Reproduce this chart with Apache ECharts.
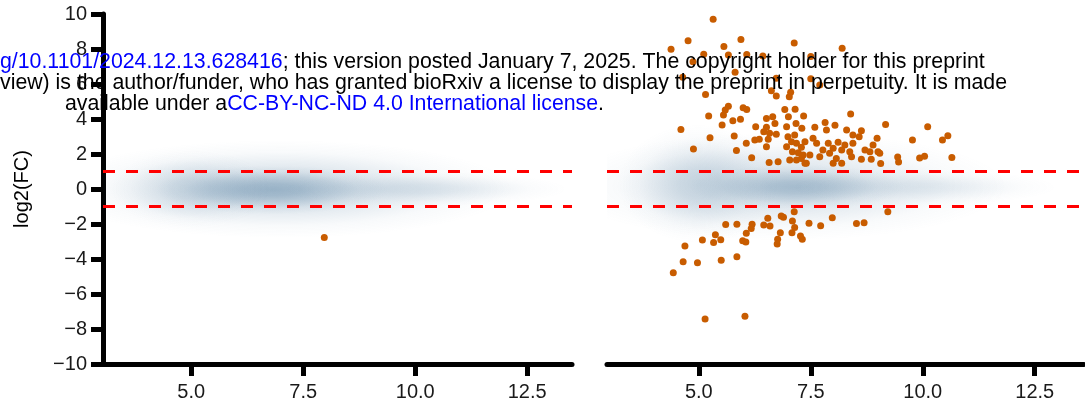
<!DOCTYPE html>
<html>
<head>
<meta charset="utf-8">
<script src="https://cdn.jsdelivr.net/npm/echarts@6.0.0/dist/echarts.min.js"></script>
<style>
html, body { margin: 0; padding: 0; background: #fff; }
#main { width: 1085px; height: 414px; }
</style>
</head>
<body>
<div id="main"></div>
<script>
// tick labels
var xTicks = [5.0, 7.5, 10.0, 12.5];
var yTicks = [-10, -8, -6, -4, -2, 0, 2, 4, 6, 8, 10];
// fold-change cut-offs (dashed lines)
var cutoffs = [1, -1];

// significant genes, left panel
var leftPoints = [[7.97, -2.77]];

// significant genes, right panel [A, log2FC]
var rightPoints = [
  [5.32, 9.70], [4.76, 8.47], [4.38, 7.98], [5.56, 8.15], [5.94, 8.55], [7.13, 8.34], [8.20, 8.04],
  [5.11, 7.70], [5.66, 7.66], [6.07, 7.69], [6.43, 7.60], [7.50, 7.57], [4.87, 7.27], [5.81, 6.67],
  [4.64, 6.38], [6.73, 6.33], [7.50, 6.30], [7.70, 5.95], [6.62, 5.62], [5.15, 5.40], [6.73, 5.31],
  [7.02, 5.27], [7.05, 5.53], [5.59, 4.51], [5.66, 4.73], [5.99, 4.65], [6.07, 4.55], [5.22, 4.17],
  [5.55, 4.23], [5.76, 3.90], [5.93, 3.98], [5.52, 3.66], [6.51, 4.03], [6.65, 4.13], [6.92, 4.55],
  [7.15, 4.56], [7.00, 4.13], [7.34, 4.17], [8.39, 4.29], [7.82, 3.80], [8.04, 3.65], [9.17, 3.69],
  [10.11, 3.56], [4.60, 3.40],
  [5.25, 2.93], [4.88, 2.29], [5.79, 3.03], [5.84, 2.20], [6.06, 2.61], [6.18, 1.79], [6.25, 2.80],
  [6.35, 2.84], [6.27, 3.56], [6.70, 3.75], [6.51, 3.53], [6.45, 3.27], [6.58, 3.18], [6.73, 3.13],
  [6.55, 2.84], [6.51, 2.42], [6.57, 1.51], [6.77, 1.56], [6.96, 3.56], [7.17, 3.75], [7.30, 3.47],
  [6.99, 2.99], [7.14, 3.09], [6.96, 2.42], [7.07, 2.70], [7.18, 2.61], [7.29, 2.38], [7.09, 2.13],
  [7.22, 2.07], [7.33, 1.94], [7.03, 1.66], [7.18, 1.66], [7.37, 1.47], [7.29, 1.75], [7.59, 3.53],
  [7.85, 3.37], [8.30, 3.37], [8.44, 3.09], [8.63, 3.33], [8.58, 2.99], [10.56, 3.05], [10.44, 2.80],
  [9.77, 2.80], [8.98, 2.90], [8.89, 2.51], [7.55, 2.90], [7.63, 2.61], [7.37, 2.70], [7.89, 2.61],
  [8.11, 2.67], [8.26, 2.51], [8.44, 2.61], [7.77, 2.23], [8.00, 2.33], [8.19, 2.23], [8.37, 2.13],
  [8.71, 2.23], [8.82, 2.13], [9.00, 2.13], [9.04, 2.04], [7.48, 1.94], [7.70, 1.85], [7.92, 2.04],
  [8.07, 1.75], [8.00, 1.47], [8.19, 1.47], [8.41, 1.85], [8.63, 1.70], [8.85, 1.70], [9.06, 1.46],
  [7.40, 1.47], [9.44, 1.83], [9.46, 1.54], [9.93, 1.77], [10.04, 1.87], [10.65, 1.80],
  [4.69, -3.26], [4.65, -4.15], [4.43, -4.78], [4.97, -4.21], [5.08, -2.91], [5.37, -2.61], [5.33, -3.05],
  [5.49, -2.90], [5.50, -4.07], [5.60, -2.03], [5.85, -2.01], [5.85, -3.87], [5.98, -2.95], [6.05, -3.03],
  [6.06, -2.53], [6.17, -2.26], [6.19, -2.01], [6.45, -2.06], [6.54, -1.67], [6.59, -2.11], [6.76, -2.87],
  [6.75, -3.14], [6.82, -2.50], [6.84, -1.54], [6.89, -1.62], [7.13, -1.30], [7.09, -1.83], [7.14, -2.20],
  [7.08, -2.50], [7.27, -2.69], [7.31, -2.87], [7.46, -1.96], [7.72, -2.10], [7.98, -1.64], [8.52, -1.97],
  [8.69, -1.93], [9.22, -1.30], [5.14, -7.43], [6.03, -7.27]
];

// density of all genes, as blobs: [A centre, log2FC centre, A spread, log2FC spread, weight]
var leftDensity = [
  [7.0, 0.0, 5.2, 2.8, 0.24],
  [6.8, -0.05, 2.6, 1.4, 0.36],
  [10.2, 0.0, 3.2, 1.0, 0.15],
  [5.0, 0.0, 1.8, 2.2, 0.15]
];
var rightDensity = [
  [6.9, 0.15, 5.0, 3.1, 0.22],
  [7.2, 0.1, 2.4, 1.3, 0.3],
  [5.0, 0.3, 1.8, 3.4, 0.18],
  [10.0, 0.1, 3.0, 1.0, 0.12]
];

var FONT = '"Liberation Sans", Arial, sans-serif';
var NOTE_FONT = '21.3px ' + FONT;
var POINT = '#c85c00';

function blobColor(a) {
  return 'rgba(55,105,145,' + a + ')';
}

function densityItem(params, api) {
  var c = api.coord([api.value(0), api.value(1)]);
  var s = api.size([api.value(2), api.value(3)]);
  var a = api.value(4);
  return {
    type: 'circle',
    x: c[0],
    y: c[1],
    scaleX: Math.abs(s[0]) / 50,
    scaleY: Math.abs(s[1]) / 50,
    shape: { cx: 0, cy: 0, r: 50 },
    style: {
      fill: new echarts.graphic.RadialGradient(0.5, 0.5, 0.5, [
        { offset: 0, color: blobColor(a) },
        { offset: 0.25, color: blobColor(a * 0.85) },
        { offset: 0.5, color: blobColor(a * 0.5) },
        { offset: 0.75, color: blobColor(a * 0.15) },
        { offset: 1, color: blobColor(0) }
      ])
    }
  };
}

function xAxisFor(idx, min, max) {
  return {
    gridIndex: idx,
    type: 'value',
    min: min,
    max: max,
    splitLine: { show: false },
    axisLine: { onZero: false, lineStyle: { color: '#000', width: 5 } },
    axisTick: { customValues: xTicks, length: 12, lineStyle: { color: '#000', width: 5 } },
    axisLabel: {
      customValues: xTicks,
      margin: 18,
      fontSize: 20,
      fontFamily: FONT,
      color: '#1a1a1a',
      formatter: function (v) { return v.toFixed(1); }
    }
  };
}

var cutLines = {
  silent: true,
  symbol: 'none',
  label: { show: false },
  lineStyle: { color: '#ff0000', width: 3, type: [12, 11] },
  data: cutoffs.map(function (v) { return { yAxis: v }; })
};

var myChart = echarts.init(document.getElementById('main'));
myChart.setOption({
  animation: false,
  grid: [
    { left: 103, top: 14, width: 469, height: 350 },
    { left: 607, top: 14, width: 477, height: 350 }
  ],
  xAxis: [xAxisFor(0, 3.03, 13.5), xAxisFor(1, 2.95, 13.6)],
  yAxis: [
    {
      gridIndex: 0,
      type: 'value',
      min: -10,
      max: 10,
      splitLine: { show: false },
      axisLine: { onZero: false, lineStyle: { color: '#000', width: 5 } },
      axisTick: { customValues: yTicks, length: 12, lineStyle: { color: '#000', width: 5 } },
      axisLabel: {
        customValues: yTicks,
        margin: 16,
        fontSize: 20,
        fontFamily: FONT,
        color: '#1a1a1a',
        formatter: function (v) { return v < 0 ? '\u2212' + (-v) : String(v); }
      }
    },
    { gridIndex: 1, type: 'value', min: -10, max: 10, show: false }
  ],
  series: [
    {
      type: 'custom',
      xAxisIndex: 0,
      yAxisIndex: 0,
      silent: true,
      clip: true,
      renderItem: densityItem,
      data: leftDensity,
      z: 1
    },
    {
      type: 'custom',
      xAxisIndex: 1,
      yAxisIndex: 1,
      silent: true,
      clip: true,
      renderItem: densityItem,
      data: rightDensity,
      z: 1
    },
    {
      type: 'scatter',
      xAxisIndex: 0,
      yAxisIndex: 0,
      symbolSize: 7,
      itemStyle: { color: POINT, opacity: 1 },
      data: leftPoints,
      markLine: cutLines,
      z: 3
    },
    {
      type: 'scatter',
      xAxisIndex: 1,
      yAxisIndex: 1,
      symbolSize: 7,
      itemStyle: { color: POINT, opacity: 1 },
      data: rightPoints,
      markLine: cutLines,
      z: 3
    }
  ],
  graphic: [
    {
      type: 'text',
      x: 22,
      y: 189,
      rotation: Math.PI / 2,
      style: { text: 'log2(FC)', font: '20px ' + FONT, fill: '#000', align: 'center', verticalAlign: 'middle' }
    },
    {
      type: 'text',
      x: 0,
      y: 62,
      z: 100,
      style: {
        text: '{u|g/10.1101/2024.12.13.628416}; this version posted January 7, 2025. The copyright holder for this preprint',
        font: NOTE_FONT,
        fill: '#000',
        verticalAlign: 'middle',
        rich: { u: { fill: '#0000ff', font: NOTE_FONT } }
      }
    },
    {
      type: 'text',
      x: 0,
      y: 83,
      z: 100,
      style: {
        text: 'view) is the author/funder, who has granted bioRxiv a license to display the preprint in perpetuity. It is made',
        font: NOTE_FONT,
        fill: '#000',
        verticalAlign: 'middle'
      }
    },
    {
      type: 'text',
      x: 65,
      y: 104,
      z: 100,
      style: {
        text: 'available under a{u|CC-BY-NC-ND 4.0 International license}.',
        font: NOTE_FONT,
        fill: '#000',
        verticalAlign: 'middle',
        rich: { u: { fill: '#0000ff', font: NOTE_FONT } }
      }
    }
  ]
});
</script>
</body>
</html>
